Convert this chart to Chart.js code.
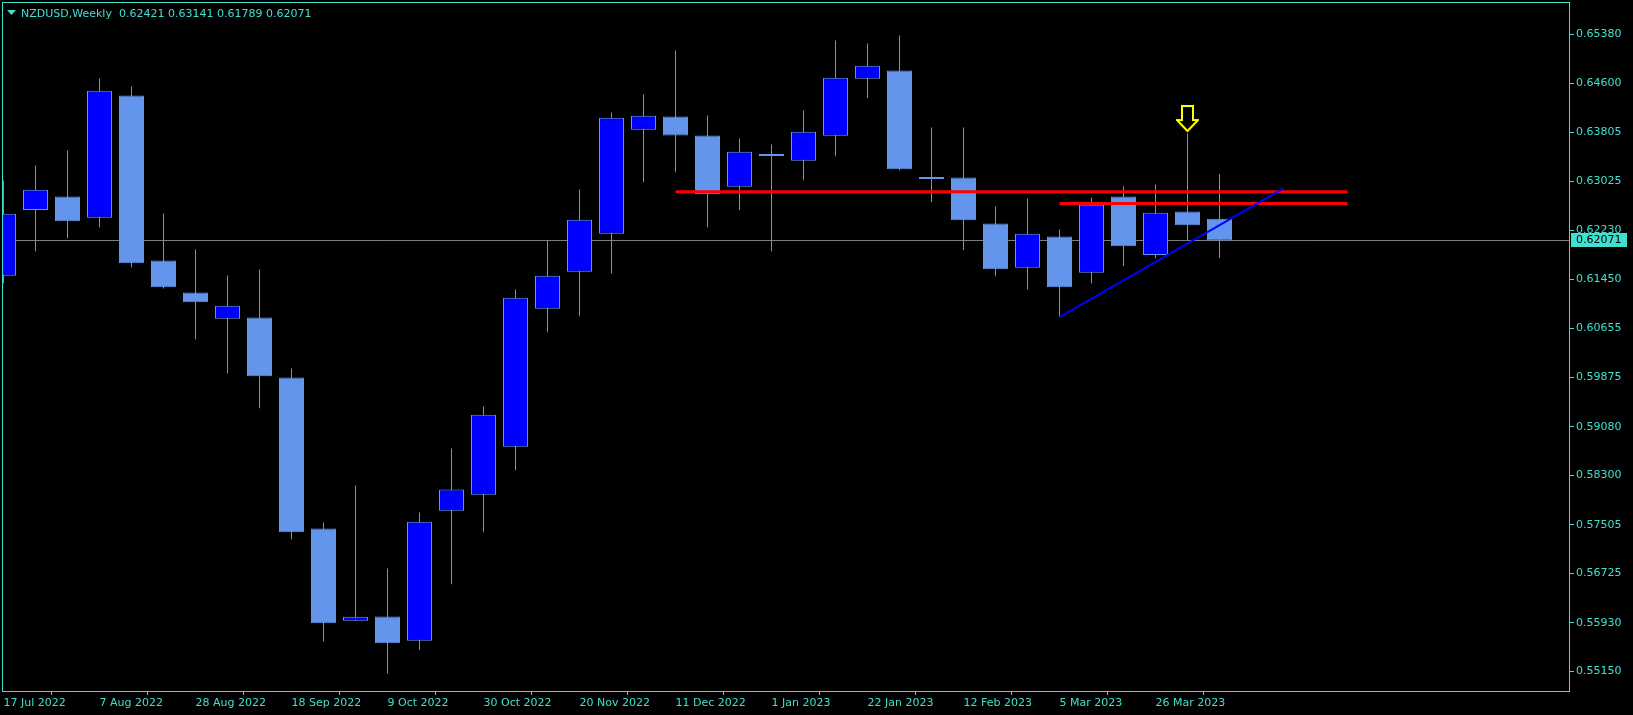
<!DOCTYPE html>
<html>
<head>
<meta charset="utf-8">
<title>NZDUSD Weekly</title>
<script src="https://cdn.jsdelivr.net/npm/chart.js@4.4.1/dist/chart.umd.min.js"></script>
<style>
html,body{margin:0;padding:0;background:#000;overflow:hidden;}
canvas{display:block;background:#000;}
</style>
</head>
<body>
<canvas id="chart" width="1633" height="715"></canvas>
<script>
// ---------------- data ----------------
const symbol = 'NZDUSD';
const timeframe = 'Weekly';
const weeks = ['17 Jul 2022','24 Jul 2022','31 Jul 2022','7 Aug 2022','14 Aug 2022','21 Aug 2022','28 Aug 2022','4 Sep 2022','11 Sep 2022','18 Sep 2022','25 Sep 2022','2 Oct 2022','9 Oct 2022','16 Oct 2022','23 Oct 2022','30 Oct 2022','6 Nov 2022','13 Nov 2022','20 Nov 2022','27 Nov 2022','4 Dec 2022','11 Dec 2022','18 Dec 2022','25 Dec 2022','1 Jan 2023','8 Jan 2023','15 Jan 2023','22 Jan 2023','29 Jan 2023','5 Feb 2023','12 Feb 2023','19 Feb 2023','26 Feb 2023','5 Mar 2023','12 Mar 2023','19 Mar 2023','26 Mar 2023','2 Apr 2023','9 Apr 2023'];
const open  = [0.61503,0.62563,0.62777,0.62435,0.64400,0.61749,0.61235,0.60812,0.60833,0.59869,0.57443,0.55960,0.56029,0.55639,0.57727,0.57984,0.58756,0.60973,0.61567,0.62178,0.63849,0.64063,0.63757,0.62933,0.63430,0.63351,0.63752,0.64668,0.64802,0.63065,0.63082,0.62343,0.61632,0.62134,0.61551,0.62777,0.61840,0.62536,0.62421];
const high  = [0.63034,0.63275,0.63516,0.64673,0.64545,0.62504,0.61926,0.61508,0.61604,0.60014,0.57539,0.58134,0.56800,0.57700,0.58728,0.59403,0.61283,0.62065,0.62890,0.64127,0.64416,0.65123,0.64079,0.63709,0.63613,0.64159,0.65284,0.65235,0.65364,0.63886,0.63886,0.62616,0.62745,0.62247,0.62761,0.62938,0.62970,0.63789,0.63141];
const low   = [0.61384,0.61898,0.62107,0.62284,0.61641,0.61299,0.60484,0.59938,0.59376,0.57271,0.55632,0.55960,0.55113,0.55494,0.56548,0.57383,0.58380,0.60597,0.60854,0.61545,0.63007,0.63168,0.62284,0.62557,0.61898,0.63039,0.63425,0.64357,0.63200,0.62686,0.61914,0.61497,0.61288,0.60838,0.61384,0.61657,0.61781,0.62070,0.61789];
const close = [0.62499,0.62885,0.62380,0.64475,0.61705,0.61320,0.61079,0.61021,0.59890,0.57383,0.55921,0.56024,0.55600,0.57551,0.58070,0.59270,0.61150,0.61503,0.62403,0.64042,0.64074,0.63757,0.62814,0.63495,0.63440,0.63817,0.64684,0.64877,0.63216,0.63060,0.62396,0.61609,0.62178,0.61320,0.62644,0.61979,0.62515,0.62316,0.62071];

const yTickValues = [0.65380,0.64600,0.63805,0.63025,0.62230,0.61450,0.60655,0.59875,0.59080,0.58300,0.57505,0.56725,0.55930,0.55150];
const xTickIndex  = [0,3,6,9,12,15,18,21,24,27,30,33,36];
const xTickLabels = ['17 Jul 2022','7 Aug 2022','28 Aug 2022','18 Sep 2022','9 Oct 2022','30 Oct 2022','20 Nov 2022','11 Dec 2022','1 Jan 2023','22 Jan 2023','12 Feb 2023','5 Mar 2023','26 Mar 2023'];

// drawn objects (bar index / price)
const resistancePrice = [0.62853, 0.62665];
const resistanceFrom  = [21, 33];
const resistanceTo    = [42, 42];
const trendX = [33, 40];
const trendY = [0.60838, 0.62910];
const arrowX = 37;
const arrowY = 0.64023;

// ---------------- style ----------------
const CYAN = '#40E0D0';
const BULL = '#0000FF';
const LIGHT = '#6495ED';
const FONT = {family: 'DejaVu Sans', size: 11};
const xMin = -0.046875, xMax = 48.953125;
const yMax = 0.659029, yMin = 0.548168;

const idx = weeks.map((_, i) => i);
const lastClose = close[close.length - 1];

// arrow marker image
const arrowImg = document.createElement('canvas');
arrowImg.width = 23; arrowImg.height = 28;
(function () {
  const g = arrowImg.getContext('2d');
  g.beginPath();
  g.moveTo(6, 1); g.lineTo(17, 1); g.lineTo(17, 15); g.lineTo(22, 15);
  g.lineTo(11.5, 26); g.lineTo(1, 15); g.lineTo(6, 15); g.closePath();
  g.fillStyle = '#000'; g.fill();
  g.strokeStyle = '#FFFF00'; g.lineWidth = 2; g.lineJoin = 'miter'; g.stroke();
})();

const overlay = {
  id: 'overlay',
  afterDraw(chart) {
    const {ctx, chartArea: a} = chart;
    const ys = chart.scales.y;
    ctx.save();
    ctx.strokeStyle = CYAN; ctx.lineWidth = 1;
    ctx.strokeRect(a.left + 0.5, a.top + 0.5, a.right - a.left - 1, a.bottom - a.top - 1);
    const py = ys.getPixelForValue(lastClose);
    ctx.fillStyle = CYAN;
    ctx.fillRect(a.right + 1, Math.round(py) - 7, 56, 14);
    ctx.fillStyle = '#000';
    ctx.font = '11px "DejaVu Sans"';
    ctx.textAlign = 'left'; ctx.textBaseline = 'middle';
    ctx.fillText(lastClose.toFixed(5), a.right + 6, py);
    ctx.fillStyle = CYAN;
    ctx.beginPath(); ctx.moveTo(7, 10); ctx.lineTo(16, 10); ctx.lineTo(11.5, 15); ctx.closePath(); ctx.fill();
    ctx.textBaseline = 'alphabetic';
    ctx.fillText(symbol + ',' + timeframe, 21, 17);
    const n = close.length - 1;
    ctx.fillText([open[n], high[n], low[n], close[n]].map(v => v.toFixed(5)).join(' '), 119, 17);
    ctx.restore();
  }
};

new Chart(document.getElementById('chart'), {
  type: 'bar',
  data: {
    datasets: [
      { type: 'line', label: 'price', data: [{x: xMin, y: lastClose}, {x: xMax, y: lastClose}],
        borderColor: '#808080', borderWidth: 1, pointRadius: 0, fill: false, order: 6 },
      { type: 'bar', label: 'wicks', data: idx.map(i => ({x: i, y: [low[i], high[i]]})),
        backgroundColor: LIGHT, borderWidth: 0, grouped: false, barThickness: 1, maxBarThickness: 1,
        inflateAmount: 0, order: 5 },
      { type: 'bar', label: 'bodies', data: idx.map(i => ({x: i, y: [open[i], close[i]]})),
        backgroundColor: idx.map(i => close[i] > open[i] ? BULL : LIGHT),
        borderColor: LIGHT, borderWidth: 1, borderSkipped: false, grouped: false,
        barThickness: 25, maxBarThickness: 25, minBarLength: 2, inflateAmount: 0, order: 4 },
      { type: 'line', label: 'res1', data: [{x: resistanceFrom[0], y: resistancePrice[0]}, {x: resistanceTo[0], y: resistancePrice[0]}],
        borderColor: '#FF0000', borderWidth: 3, pointRadius: 0, fill: false, order: 2 },
      { type: 'line', label: 'res2', data: [{x: resistanceFrom[1], y: resistancePrice[1]}, {x: resistanceTo[1], y: resistancePrice[1]}],
        borderColor: '#FF0000', borderWidth: 3, pointRadius: 0, fill: false, order: 2 },
      { type: 'line', label: 'trend', data: trendX.map((x, i) => ({x, y: trendY[i]})),
        borderColor: '#0000FF', borderWidth: 2, pointRadius: 0, fill: false, order: 1 },
      { type: 'scatter', label: 'arrow', data: [{x: arrowX, y: arrowY}],
        pointStyle: arrowImg, pointRadius: 12, order: 0 }
    ]
  },
  options: {
    responsive: false,
    animation: false,
    devicePixelRatio: 1,
    events: [],
    layout: {autoPadding: false, padding: {left: 2, top: 2, right: 0, bottom: 0}},
    plugins: {legend: {display: false}, tooltip: {enabled: false}, title: {display: false}},
    scales: {
      x: {
        type: 'linear', min: xMin, max: xMax, bounds: 'data', offset: false,
        afterBuildTicks: s => { s.ticks = xTickIndex.map(v => ({value: v})); },
        afterFit: s => { s.height = 23; s.paddingLeft = 0; s.paddingRight = 0; },
        grid: {display: true, drawOnChartArea: false, drawTicks: true, tickLength: 3, color: CYAN},
        border: {display: false},
        ticks: {autoSkip: false, maxRotation: 0, minRotation: 0, align: 'start', padding: 2,
                color: CYAN, font: FONT, callback: (v, i) => xTickLabels[i]}
      },
      y: {
        type: 'linear', position: 'right', min: yMin, max: yMax, bounds: 'data',
        afterBuildTicks: s => { s.ticks = yTickValues.map(v => ({value: v})); },
        afterFit: s => { s.width = 63; s.paddingTop = 0; s.paddingBottom = 0; },
        grid: {display: true, drawOnChartArea: false, drawTicks: true, tickLength: 4, color: CYAN},
        border: {display: false},
        ticks: {autoSkip: false, padding: 2, color: CYAN, font: FONT, callback: v => Number(v).toFixed(5)}
      }
    }
  },
  plugins: [overlay]
});
</script>
</body>
</html>
